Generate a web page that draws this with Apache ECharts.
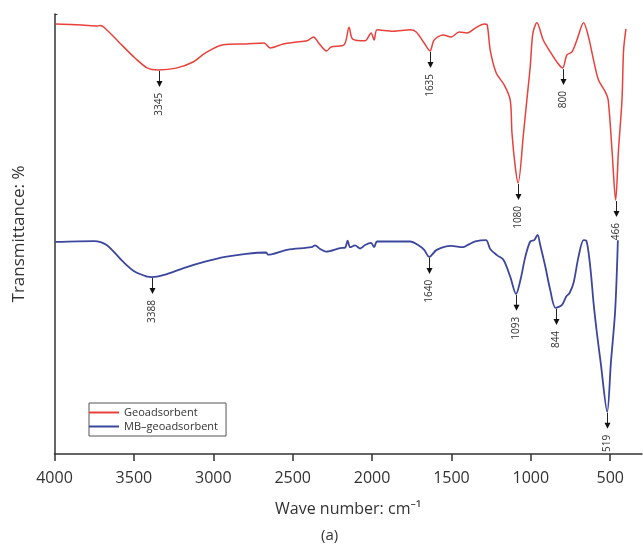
<!DOCTYPE html>
<html lang="en">

<head>
    <meta charset="UTF-8">
    <title>FTIR spectra</title>
    <script src="https://cdn.jsdelivr.net/npm/echarts@6/dist/echarts.min.js"></script>
    <style>
        html, body { margin: 0; padding: 0; background: #fff; }
        #main { width: 643px; height: 550px; }
    </style>
</head>

<body>
    <div id="main"></div>

    <script type="text/javascript">
        // wave numbers (cm-1) and transmittance (arbitrary %)
        var geoWn = [3995, 3827, 3726, 3713, 3688, 3594, 3493, 3414, 3345, 3234, 3127, 3051, 2938, 2793, 2680, 2642,
            2560, 2485, 2409, 2368, 2340, 2286, 2258, 2176, 2145, 2122, 2044, 2006, 1987, 1968, 1867, 1760, 1722,
            1672, 1635, 1609, 1552, 1502, 1451, 1401, 1350, 1294, 1275, 1256, 1218, 1168, 1130, 1119, 1098, 1080,
            1046, 1025, 1004, 987, 962, 922, 878, 836, 800, 773, 741, 710, 668, 637, 605, 574, 531, 513, 489, 466,
            448, 426, 416, 401];
        var geoT = [97.7, 97.5, 97.3, 97.4, 97.0, 93.6, 90.0, 87.7, 87.3, 87.7, 89.1, 91.1, 93.0, 93.2, 93.4, 92.3,
            93.2, 93.6, 93.9, 94.8, 93.6, 91.6, 92.5, 93.0, 97.0, 94.3, 93.9, 95.7, 94.1, 96.4, 96.1, 96.4, 95.9,
            93.4, 91.6, 94.1, 95.2, 94.8, 95.9, 95.7, 96.8, 97.7, 97.5, 91.8, 86.6, 83.9, 80.5, 73.0, 65.2, 61.6,
            73.0, 80.5, 88.0, 95.7, 98.0, 94.1, 91.4, 89.1, 87.7, 90.7, 91.4, 94.1, 98.0, 94.8, 89.5, 85.0, 82.3,
            80.5, 69.1, 57.7, 69.1, 80.5, 91.8, 96.6];

        var mbWn = [3995, 3751, 3672, 3568, 3493, 3414, 3388, 3310, 3182, 3052, 2926, 2793, 2667, 2655, 2535, 2381,
            2359, 2327, 2289, 2201, 2170, 2154, 2138, 2107, 2075, 2044, 2006, 1987, 1968, 1760, 1710, 1672, 1640,
            1593, 1502, 1426, 1388, 1350, 1283, 1256, 1214, 1172, 1130, 1093, 1066, 1035, 1004, 979, 958, 941, 909,
            878, 844, 804, 777, 756, 731, 700, 668, 651, 626, 605, 584, 560, 519, 496, 470, 458, 452];
        var mbT = [48.2, 48.4, 47.5, 43.7, 41.4, 40.3, 40.2, 40.7, 42.3, 43.7, 44.8, 45.5, 45.8, 45.3, 46.4, 47.0,
            47.4, 46.6, 46.0, 46.8, 46.9, 48.5, 47.0, 47.4, 46.7, 47.5, 48.0, 47.0, 48.3, 48.3, 47.5, 46.4, 44.8,
            46.4, 47.3, 47.0, 47.7, 48.3, 48.6, 46.6, 45.2, 44.1, 40.3, 36.4, 39.5, 44.8, 48.3, 48.6, 49.8, 47.5, 42.6,
            37.3, 33.2, 33.9, 35.8, 36.6, 38.9, 44.8, 48.6, 48.5, 42.6, 34.3, 27.5, 20.7, 9.6, 20.7, 32.0, 41.8, 48.6];

        // marked band positions
        var geoPeaks = [3345, 1635, 1080, 800, 466];
        var geoPeakT = [87.3, 91.6, 61.6, 87.7, 57.7];
        var mbPeaks = [3388, 1640, 1093, 844, 519];
        var mbPeakT = [40.2, 44.8, 36.4, 33.2, 9.6];

        var xTicks = [4000, 3500, 3000, 2500, 2000, 1500, 1000, 500];

        var FONT = '"Open Sans", "Noto Sans", sans-serif';

        function pairs(xs, ys) {
            return xs.map(function (x, i) { return [x, ys[i]]; });
        }

        // arrow + rotated label under each band
        function renderArrow(params, api) {
            var p = api.coord([api.value(0), api.value(1)]);
            var x = Math.round(p[0]) + 0.5;
            var y = p[1];
            return {
                type: 'group',
                children: [
                    {
                        type: 'line',
                        shape: { x1: x, y1: y + 1, x2: x, y2: y + 12 },
                        style: { stroke: '#222', lineWidth: 1 }
                    },
                    {
                        type: 'polygon',
                        shape: { points: [[x - 3, y + 11], [x + 3, y + 11], [x, y + 17]] },
                        style: { fill: '#111' }
                    },
                    {
                        type: 'text',
                        x: x,
                        y: y + 23,
                        rotation: Math.PI / 2,
                        style: {
                            text: String(api.value(0)),
                            fill: '#333',
                            font: '10px ' + FONT,
                            align: 'right',
                            verticalAlign: 'middle'
                        }
                    }
                ]
            };
        }

        var myChart = echarts.init(document.getElementById('main'));

        var option = {
            animation: false,
            backgroundColor: '#fff',
            grid: { left: 54.5, right: 1, top: 14, bottom: 96 },
            legend: {
                data: ['Geoadsorbent', 'MB–geoadsorbent'],
                orient: 'vertical',
                left: 89,
                top: 403,
                icon: 'rect',
                itemWidth: 30,
                itemHeight: 2,
                itemGap: 3,
                padding: [4, 8, 4, 0],
                borderColor: '#555',
                borderWidth: 1,
                textStyle: { fontFamily: FONT, fontSize: 11, color: '#333' }
            },
            xAxis: {
                type: 'value',
                inverse: true,
                min: 300,
                max: 4000,
                name: 'Wave number: cm⁻¹',
                nameLocation: 'middle',
                nameGap: 47,
                nameTextStyle: { fontFamily: FONT, fontSize: 16, color: '#333' },
                axisLine: { lineStyle: { color: '#333', width: 1.5 } },
                axisTick: { length: 7, lineStyle: { color: '#333', width: 1.5 }, customValues: xTicks },
                axisLabel: {
                    fontFamily: FONT, fontSize: 16, color: '#333', margin: 16, customValues: xTicks,
                    formatter: function (v) { return String(v); }
                },
                splitLine: { show: false }
            },
            yAxis: {
                type: 'value',
                min: 0,
                max: 100,
                name: 'Transmittance: %',
                nameLocation: 'middle',
                nameGap: 27,
                nameTextStyle: { fontFamily: FONT, fontSize: 17, color: '#333' },
                axisLine: { show: true, lineStyle: { color: '#333', width: 1.5 } },
                axisTick: { show: true, inside: true, length: 3, customValues: [100], lineStyle: { color: '#333' } },
                axisLabel: { show: false },
                splitLine: { show: false }
            },
            graphic: [{
                type: 'text',
                left: 321,
                top: 528,
                style: { text: '(a)', font: '15px ' + FONT, fill: '#333' }
            }],
            series: [
                {
                    name: 'Geoadsorbent',
                    type: 'line',
                    data: pairs(geoWn, geoT),
                    smooth: 0.3,
                    showSymbol: false,
                    lineStyle: { color: '#e8413c', width: 1.5 },
                    itemStyle: { color: '#e8413c' }
                },
                {
                    name: 'MB–geoadsorbent',
                    type: 'line',
                    data: pairs(mbWn, mbT),
                    smooth: 0.3,
                    showSymbol: false,
                    lineStyle: { color: '#3c469c', width: 1.8 },
                    itemStyle: { color: '#3c469c' }
                },
                {
                    type: 'custom',
                    renderItem: renderArrow,
                    encode: { x: 0, y: 1 },
                    data: pairs(geoPeaks, geoPeakT),
                    z: 5
                },
                {
                    type: 'custom',
                    renderItem: renderArrow,
                    encode: { x: 0, y: 1 },
                    data: pairs(mbPeaks, mbPeakT),
                    z: 5
                }
            ]
        };

        myChart.setOption(option);
    </script>
</body>

</html>
